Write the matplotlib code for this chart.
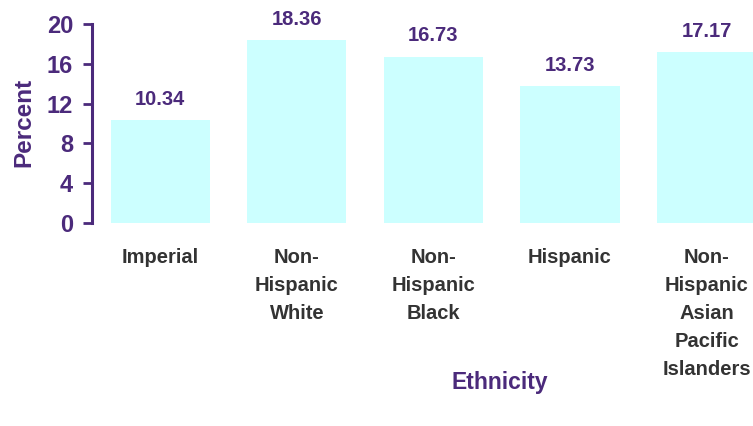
import matplotlib
matplotlib.use("Agg")
import matplotlib.pyplot as plt

categories = ["Imperial", "Non-\nHispanic\nWhite", "Non-\nHispanic\nBlack", "Hispanic",
              "Non-\nHispanic\nAsian\nPacific\nIslanders"]
values = [10.34, 18.36, 16.73, 13.73, 17.17]
yticks = [0, 4, 8, 12, 16, 20]

purple = "#4B2A7B"
plt.rcParams['font.family'] = ['Liberation Sans', 'DejaVu Sans']

fig = plt.figure(figsize=(7.53, 4.26), dpi=100)
ax = fig.add_axes([92/753, 203/426, 661/753, 199/426])
x = list(range(len(categories)))
bars = ax.bar(x, values, width=0.725, color="#CCFFFF", zorder=2)
ax.set_xlim(-0.5, 4.34)
ax.set_ylim(0, 20)
ax.set_yticks(yticks)
ax.set_yticklabels([str(t) for t in yticks], fontsize=17, fontweight='bold', color=purple)
ax.set_xticks(x)
ax.set_xticklabels(categories, fontsize=14.5, fontweight='bold', color="#333333",
                   linespacing=1.6, va='top')
ax.tick_params(axis='x', length=0, pad=18)
ax.tick_params(axis='y', length=6.5, width=2, color=purple, pad=7)
for s in ['top', 'right', 'bottom']:
    ax.spines[s].set_visible(False)
ax.spines['left'].set_color(purple)
ax.spines['left'].set_linewidth(2.2)
ax.spines['left'].set_bounds(0, 20)

for xi, v in zip(x, values):
    ax.annotate(f"{v:.2f}", (xi, v), xytext=(0, 8), textcoords='offset points',
                ha='center', va='bottom', fontsize=14.5, fontweight='bold', color=purple)

ax.set_ylabel("Percent", fontsize=17.5, fontweight='bold', color=purple)
ax.yaxis.set_label_coords((35 - 92) / 661, 0.507)
fig.text(500/753, 1-383/426, "Ethnicity", ha='center', va='center',
         fontsize=16.5, fontweight='bold', color=purple)

fig.savefig("out.png", dpi=100)
